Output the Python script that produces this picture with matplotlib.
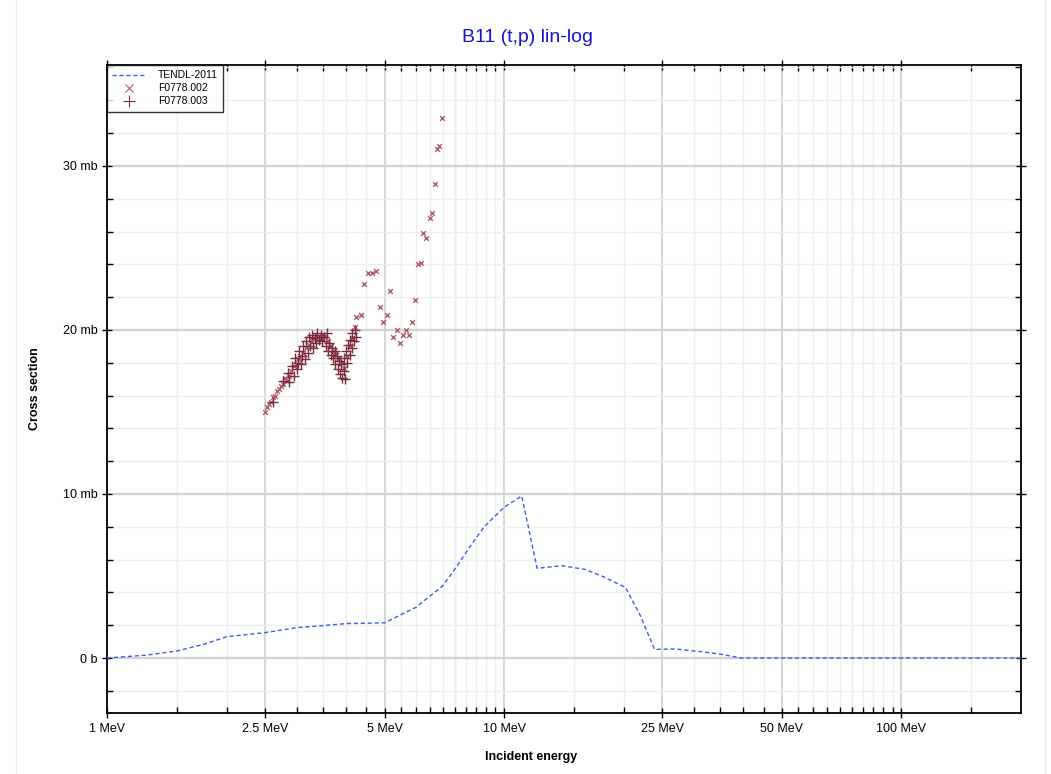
import matplotlib
matplotlib.use("Agg")
import matplotlib.pyplot as plt
from matplotlib.ticker import FixedLocator, MultipleLocator, FuncFormatter, NullFormatter
from matplotlib.patches import Rectangle
from matplotlib.lines import Line2D

plt.rcParams['font.family'] = ['Liberation Sans', 'DejaVu Sans']

# TENDL-2011 evaluation (MeV, mb)
tendl_e = [1.0, 1.26, 1.5, 1.76, 2.0, 2.5, 3.0, 3.5, 4.0, 4.5, 5.0, 6.0, 7.0, 7.5, 8.1, 8.9,
           10.0, 11.07, 12.1, 14.0, 16.0, 17.8, 20.2, 22.0, 23.9, 27.0, 31.5,
           35.4, 39.5, 50.0, 70.0, 100.0, 150.0, 200.0]
tendl_xs = [0.0, 0.18, 0.43, 0.85, 1.3, 1.55, 1.85, 1.98, 2.1, 2.12, 2.15, 3.1, 4.4, 5.4, 6.6, 8.0,
            9.2, 9.88, 5.47, 5.63, 5.4, 4.95, 4.3, 2.6, 0.53, 0.55, 0.38,
            0.22, 0.0, 0.0, 0.0, 0.0, 0.0, 0.0]

# EXFOR F0778.002
f002_e = [2.50, 2.53, 2.56, 2.59, 2.62, 2.65, 2.68, 2.71, 2.74, 2.77, 2.80, 2.84,
          2.87, 2.91, 2.95, 2.99, 3.03, 3.07, 3.12, 3.17, 3.22, 3.28, 3.34, 3.40,
          3.47, 3.54, 3.60, 3.66, 3.72, 3.78, 3.84, 3.90, 3.96, 4.02, 4.08, 4.14,
          4.20, 4.23, 4.35, 4.37, 4.44, 4.54, 4.65, 4.76, 4.86, 4.95, 5.06, 5.17,
          5.26, 5.36, 5.47, 5.56, 5.66, 5.77, 5.86, 5.97, 6.07, 6.18, 6.26, 6.37,
          6.49, 6.59, 6.68, 6.78, 6.87, 6.98]
f002_xs = [15.0, 15.3, 15.5, 15.6, 15.9, 16.0, 16.3, 16.4, 16.6, 16.7, 17.1, 16.9,
           17.2, 17.5, 17.8, 17.9, 18.2, 18.4, 18.6, 18.9, 19.1, 19.3, 19.5, 19.6,
           19.7, 19.6, 19.3, 19.0, 18.7, 18.5, 18.3, 18.0, 17.7, 18.4, 19.0, 19.5,
           20.2, 20.8, 20.9, 20.9, 22.8, 23.5, 23.5, 23.6, 21.4, 20.5, 20.9, 22.4,
           19.6, 20.0, 19.2, 19.7, 20.0, 19.7, 20.5, 21.8, 24.0, 24.1, 25.9, 25.6,
           26.8, 27.1, 28.9, 31.0, 31.2, 32.9]

# EXFOR F0778.003
f003_e = [2.62, 2.78, 2.85, 2.88, 2.92, 2.95, 2.98, 3.00, 3.03, 3.05, 3.08, 3.10,
          3.12, 3.15, 3.17, 3.20, 3.22, 3.25, 3.28, 3.30, 3.33, 3.36, 3.38, 3.42,
          3.45, 3.48, 3.52, 3.55, 3.58, 3.60, 3.63, 3.66, 3.68, 3.71, 3.74, 3.76,
          3.79, 3.81, 3.84, 3.86, 3.89, 3.91, 3.94, 3.96, 3.98, 4.00, 4.03, 4.05,
          4.08, 4.10, 4.13, 4.15, 4.18, 4.21, 4.24]
f003_xs = [15.6, 16.9, 17.4, 16.8, 17.8, 17.2, 18.3, 17.6, 18.0, 18.7, 17.9, 18.4,
           19.0, 18.2, 19.3, 18.6, 19.6, 19.0, 19.7, 18.9, 19.5, 19.2, 19.8, 19.4,
           19.7, 19.3, 19.6, 19.0, 19.8, 18.7, 19.2, 18.5, 18.9, 18.3, 18.7, 17.9,
           18.4, 17.6, 18.1, 17.3, 17.9, 17.1, 17.5, 18.3, 17.0, 18.7, 18.0, 19.1,
           18.5, 19.4, 18.9, 19.8, 19.3, 20.0, 19.6]

x_major = [1, 2.5, 5, 10, 25, 50, 100]
x_major_labels = ["1 MeV", "2.5 MeV", "5 MeV", "10 MeV", "25 MeV", "50 MeV", "100 MeV"]
x_minor = [1.5, 2, 3, 3.5, 4, 4.5, 5.5, 6, 6.5, 7, 7.5, 8, 8.5, 9, 9.5,
           15, 20, 30, 35, 40, 45, 55, 60, 65, 70, 75, 80, 85, 90, 95, 150]
x_mid = [7.5, 75]

W, H = 1051, 774
fig = plt.figure(figsize=(W / 100, H / 100), dpi=100)
fig.patches.append(Rectangle((16 / W, -0.01), (1045 - 16) / W, 1.02,
                             transform=fig.transFigure, fill=False,
                             edgecolor='#ececec', lw=1))
ax = fig.add_axes([107 / W, 1 - 713 / H, (1021 - 107) / W, (713 - 65) / H])

ax.set_xscale('log')
ax.set_xlim(1, 200)
ax.set_ylim(-3.35, 36.15)

ax.xaxis.set_major_locator(FixedLocator(x_major))
ax.xaxis.set_major_formatter(FuncFormatter(lambda v, p: x_major_labels[x_major.index(v)] if v in x_major else ""))
ax.xaxis.set_minor_locator(FixedLocator(x_minor))
ax.xaxis.set_minor_formatter(NullFormatter())
ax.yaxis.set_major_locator(MultipleLocator(10))
ax.yaxis.set_minor_locator(MultipleLocator(2))
ax.yaxis.set_major_formatter(FuncFormatter(lambda v, p: "0 b" if abs(v) < 1e-9 else f"{v:.0f} mb"))

ax.grid(which='minor', color='#efefef', lw=1.0, zorder=0)
ax.grid(which='major', axis='x', color='#cfcfcf', lw=1.2, zorder=0)
ax.grid(which='major', axis='y', color='#d2d2d2', lw=1.6, zorder=0)
for v in x_mid:
    ax.axvline(v, color='#d6d6d6', lw=1.0, zorder=0)
ax.set_axisbelow(True)

ax.tick_params(which='major', direction='inout', length=7, width=1, color='black',
               labelsize=9, top=True, right=True)
ax.tick_params(which='minor', direction='in', length=4, width=1, color='black',
               top=True, right=True)
ax.tick_params(axis='x', which='major', pad=4)
ax.tick_params(axis='y', which='major', pad=3)
for s in ax.spines.values():
    s.set_linewidth(1.3)

ax.plot(tendl_e, tendl_xs, color='#3a5fe0', lw=1.0, dashes=(3, 2), zorder=3,
        label='TENDL-2011')
ax.scatter(f002_e, f002_xs, marker='x', s=12, color='#b0606a', lw=1.0, zorder=4,
           label='F0778.002')
ax.scatter(f003_e, f003_xs, marker='+', s=45, color='#7a2c3c', lw=1.0, zorder=5,
           label='F0778.003')

handles = [Line2D([], [], color='#3a5fe0', lw=1.0, dashes=(3, 2)),
           Line2D([], [], color='#b0606a', marker='x', ls='none', ms=6, mew=0.8),
           Line2D([], [], color='#7a2c3c', marker='+', ls='none', ms=9, mew=0.8)]
leg = ax.legend(handles, ['TENDL-2011', 'F0778.002', 'F0778.003'],
                loc='upper left', bbox_to_anchor=(0, 1), fontsize=7.5, frameon=True,
                fancybox=False, borderaxespad=0, handlelength=3.2,
                labelspacing=0.3, borderpad=0.5, handletextpad=1.2)
leg.get_frame().set_edgecolor('black')
leg.get_frame().set_linewidth(1.0)

fig.text(0.502, 1 - 37 / H, "B11 (t,p) lin-log", ha='center', va='center',
         fontsize=14, color='#1515cc')
fig.text(531 / W, 1 - 757 / H, "Incident energy", ha='center', va='center',
         fontsize=9, fontweight='bold')
fig.text(35 / W, 1 - 389 / H, "Cross section", ha='center', va='center',
         fontsize=9, fontweight='bold', rotation=90)

fig.savefig("out.png", dpi=100)
